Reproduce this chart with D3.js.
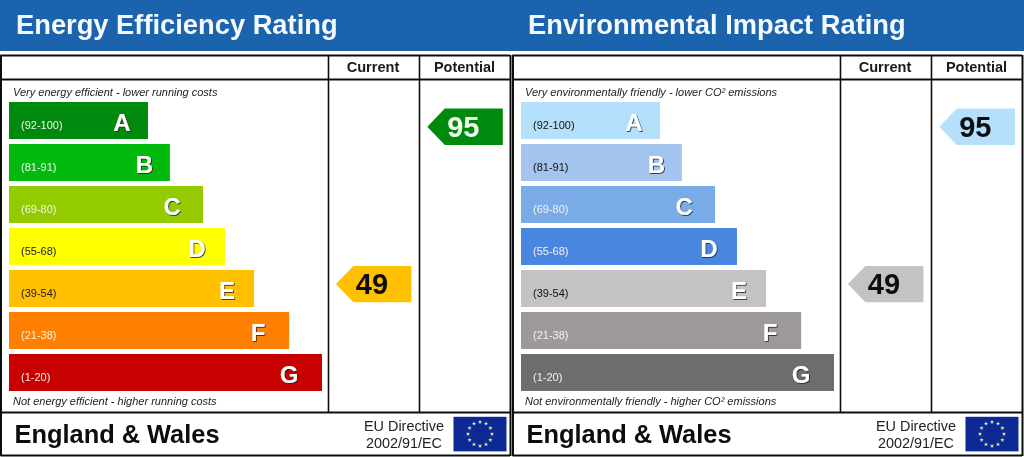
<!DOCTYPE html>
<html><head><meta charset="utf-8">
<script src="https://cdn.jsdelivr.net/npm/d3@7"></script>
<style>html,body{margin:0;padding:0;background:#fff}svg{display:block}text{font-family:"Liberation Sans",Arial,sans-serif}</style>
</head><body><svg id="c" width="1024" height="457"></svg>
<script>
const ratingLetters = ["A","B","C","D","E","F","G"];
const ratingBands = ["(92-100)","(81-91)","(69-80)","(55-68)","(39-54)","(21-38)","(1-20)"];
const barLengths = [44.4,51.4,62,69,78.3,89.5,100];
const letterInset = [26,25.5,31,28,27,31,33];
const energyColors = ["#068a0c","#04bb0c","#94ca00","#ffff00","#ffc000","#ff8000","#c70000"];
const envColors = ["#b5e0fb","#a3c4ee","#79ace6","#4886e0","#c4c2c4","#9c989c","#6e6c6e"];
const energyBandText = ["#f2f2f2","#f2f2f2","#f2f2f2","#222","#222","#f8f0e0","#f2f2f2"];
const envBandText = ["#111","#111","#f2f2f2","#f2f2f2","#111","#f2f2f2","#f2f2f2"];
const currentScore = 49, potentialScore = 95;
const energyArrow = ["#ffc000","#068a0c"];
const envArrow = ["#c4c2c4","#b5e0fb"];

const panels = [
 {x0:0,title:"Energy Efficiency Rating",top:"Very energy efficient - lower running costs",bottom:"Not energy efficient - higher running costs",colors:energyColors,bandText:energyBandText,arrows:energyArrow},
 {x0:512,title:"Environmental Impact Rating",top:"Very environmentally friendly - lower CO² emissions",bottom:"Not environmentally friendly - higher CO² emissions",colors:envColors,bandText:envBandText,arrows:envArrow}
];

const svg = d3.select("#c");
const defs = svg.append("defs");
const f = defs.append("filter").attr("id","ls").attr("x","-20%").attr("y","-20%").attr("width","150%").attr("height","150%");
f.append("feDropShadow").attr("dx",0.8).attr("dy",0.8).attr("stdDeviation",0.5).attr("flood-color","#222");
const soft = defs.append("filter").attr("id","soft");
soft.append("feGaussianBlur").attr("stdDeviation",0.35);

const root = svg.append("g").attr("filter","url(#soft)");
root.append("rect").attr("width",1024).attr("height",457).attr("fill","#fff");
root.append("rect").attr("width",1024).attr("height",51).attr("fill","#1a63ad");

const y = d3.scaleBand().domain(ratingLetters).range([102,391]).paddingInner(5/42).paddingOuter(0).align(0);
const x = d3.scaleLinear().domain([0,100]).range([9,322]);
const yScore = d3.scaleLinear().domain([100,0]).range([109.6,451.8]);

panels.forEach(p=>{
  const g = root.append("g").attr("transform",`translate(${p.x0},0)`);
  g.append("text").attr("x",16).attr("y",34).attr("font-size",27.3).attr("font-weight",700).attr("fill","#f4f9fd").text(p.title);

  const line=(a,b,c,d,w)=>g.append("line").attr("x1",a).attr("y1",b).attr("x2",c).attr("y2",d).attr("stroke","#111").attr("stroke-width",w);
  line(0.5,55.5,510,55.5,2); line(0.5,79.5,510,79.5,2); line(0.5,412.5,510,412.5,2); line(0.5,455.5,510,455.5,2);
  line(1,55,1,456,2); line(510.5,55,510.5,456,2);
  line(328.5,55,328.5,412,1.6); line(419.5,55,419.5,412,1.6);

  g.append("text").attr("x",373).attr("y",72).attr("text-anchor","middle").attr("font-size",14.6).attr("font-weight",700).attr("fill","#1a1a1a").text("Current");
  g.append("text").attr("x",464.5).attr("y",72).attr("text-anchor","middle").attr("font-size",14.5).attr("font-weight",700).attr("fill","#1a1a1a").text("Potential");

  g.append("text").attr("x",13).attr("y",96).attr("font-size",11).attr("font-style","italic").attr("fill","#222").text(p.top);
  g.append("text").attr("x",13).attr("y",405).attr("font-size",11).attr("font-style","italic").attr("fill","#222").text(p.bottom);

  const rows = g.selectAll("g.row").data(ratingLetters).join("g").attr("class","row");
  rows.append("rect").attr("x",x(0)).attr("y",d=>y(d)).attr("height",y.bandwidth())
    .attr("width",(d,i)=>x(barLengths[i])-x(0)).attr("fill",(d,i)=>p.colors[i]);
  rows.append("text").attr("x",x(0)+12).attr("y",d=>y(d)+27).attr("font-size",11).attr("fill",(d,i)=>p.bandText[i]).text((d,i)=>ratingBands[i]);
  rows.append("text").attr("x",(d,i)=>x(barLengths[i])-letterInset[i]).attr("y",d=>y(d)+28.5).attr("text-anchor","middle").attr("font-size",24).attr("font-weight",700).attr("fill","#fff").attr("filter","url(#ls)").text(d=>d);

  const arrow=(xr,score,col)=>{
    const c=yScore(score), h=18.2;
    g.append("path").attr("d",d3.line()([[xr,c-h],[xr-58,c-h],[xr-75.5,c],[xr-58,c+h],[xr,c+h]])+"Z").attr("fill",col);
    g.append("text").attr("x",xr-39.5).attr("y",c+10.2).attr("text-anchor","middle").attr("font-size",29).attr("font-weight",700)
      .attr("fill",col==="#068a0c"?"#f2fbf2":"#111").text(score);
  };
  arrow(411.4,currentScore,p.arrows[0]);
  arrow(502.8,potentialScore,p.arrows[1]);

  g.append("text").attr("x",14.5).attr("y",443).attr("font-size",25.4).attr("font-weight",700).attr("fill","#0c0c0c").text("England & Wales");
  g.append("text").attr("x",404).attr("y",431).attr("text-anchor","middle").attr("font-size",14.4).attr("fill","#222").text("EU Directive");
  g.append("text").attr("x",404).attr("y",448).attr("text-anchor","middle").attr("font-size",14.4).attr("fill","#222").text("2002/91/EC");

  g.append("rect").attr("x",453.5).attr("y",416.8).attr("width",53).attr("height",34.6).attr("fill","#0f2a94");
  const star=d3.symbol().type(d3.symbolStar).size(6);
  g.selectAll("path.star").data(d3.range(12)).join("path").attr("class","star").attr("d",star).attr("fill","#e8e4a0")
    .attr("transform",d=>`translate(${480+12*Math.sin(d*Math.PI/6)},${434-12*Math.cos(d*Math.PI/6)})`);
});
</script></body></html>
